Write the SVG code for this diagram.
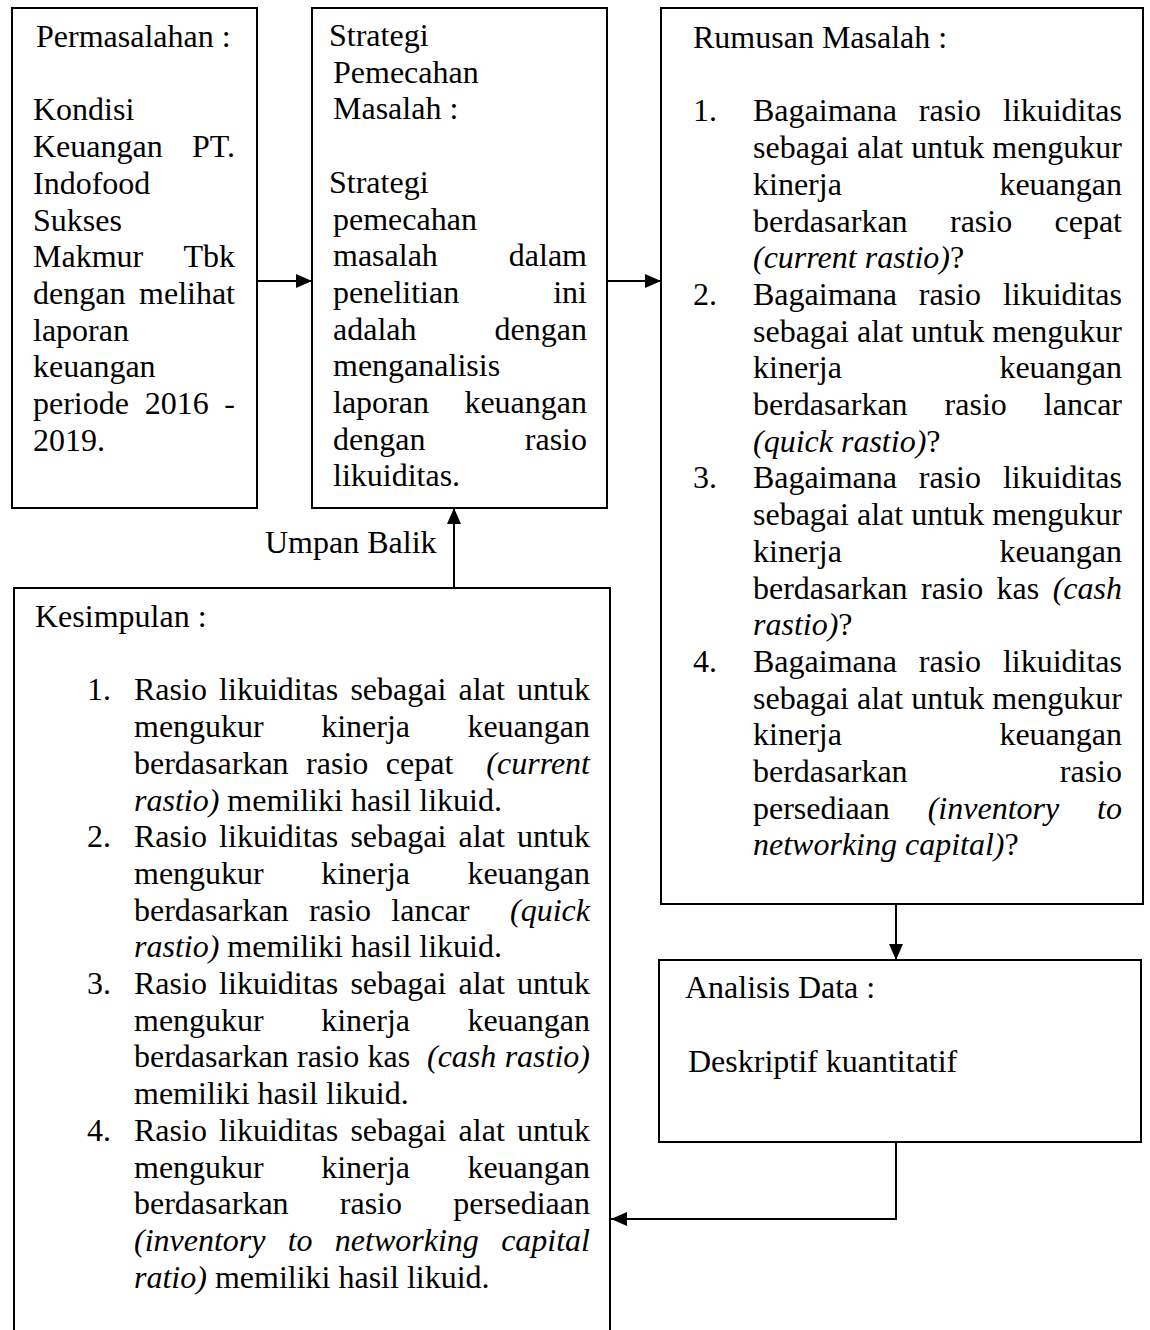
<svg xmlns="http://www.w3.org/2000/svg" width="1150" height="1330" viewBox="0 0 1150 1330">
<style>
text{font-family:"Liberation Serif","Times New Roman",serif;font-size:32px;fill:#000}
.e{text-anchor:end}
.i{font-style:italic}
.box{fill:#fff;stroke:#000;stroke-width:2}
.ln{fill:none;stroke:#000;stroke-width:2}
</style>
<defs>
<marker id="ah" markerUnits="userSpaceOnUse" markerWidth="16" markerHeight="14" refX="16" refY="7" orient="auto">
<path d="M0,0 L16,7 L0,14 z" fill="#000"/>
</marker>
</defs>
<rect width="1150" height="1330" fill="#fff"/>

<g id="connectors">
<line class="ln" x1="257" y1="281" x2="312" y2="281" marker-end="url(#ah)"/>
<line class="ln" x1="607" y1="281" x2="661" y2="281" marker-end="url(#ah)"/>
<line class="ln" x1="454" y1="588" x2="454" y2="508" marker-end="url(#ah)"/>
<line class="ln" x1="896" y1="904" x2="896" y2="960" marker-end="url(#ah)"/>
<polyline class="ln" points="896,1142 896,1219 611,1219" marker-end="url(#ah)"/>
<text x="265" y="553">Umpan Balik</text>
</g>

<g id="n-permasalahan">
<rect class="box" x="12" y="8" width="245" height="500"/>
<text x="36" y="47">Permasalahan :</text>
<text x="33" y="120.4">Kondisi</text>
<text x="33" y="157.1">Keuangan</text><text class="e" x="235" y="157.1">PT.</text>
<text x="33" y="193.8">Indofood</text>
<text x="33" y="230.5">Sukses</text>
<text x="33" y="267.2">Makmur</text><text class="e" x="235" y="267.2">Tbk</text>
<text x="33" y="303.9">dengan</text><text class="e" x="235" y="303.9">melihat</text>
<text x="33" y="340.6">laporan</text>
<text x="33" y="377.3">keuangan</text>
<text x="33" y="414">periode</text><text x="144.7" y="414">2016</text><text class="e" x="235" y="414">-</text>
<text x="33" y="450.7">2019.</text>
</g>

<g id="n-strategi">
<rect class="box" x="312" y="8" width="295" height="500"/>
<text x="329" y="46">Strategi</text>
<text x="333" y="82.7">Pemecahan</text>
<text x="333" y="119.4">Masalah :</text>
<text x="329" y="192.8">Strategi</text>
<text x="333" y="229.5">pemecahan</text>
<text x="333" y="266.2">masalah</text><text class="e" x="587" y="266.2">dalam</text>
<text x="333" y="302.9">penelitian</text><text class="e" x="587" y="302.9">ini</text>
<text x="333" y="339.6">adalah</text><text class="e" x="587" y="339.6">dengan</text>
<text x="333" y="376.3">menganalisis</text>
<text x="333" y="413">laporan</text><text class="e" x="587" y="413">keuangan</text>
<text x="333" y="449.7">dengan</text><text class="e" x="587" y="449.7">rasio</text>
<text x="333" y="486.4">likuiditas.</text>
</g>

<g id="n-rumusan">
<rect class="box" x="661" y="8" width="482" height="896"/>
<text x="693" y="48">Rumusan Masalah :</text>
<text x="693" y="121.4">1.</text>
<text x="753" y="121.4">Bagaimana</text><text x="918.8" y="121.4">rasio</text><text class="e" x="1122" y="121.4">likuiditas</text>
<text x="753" y="158.1">sebagai</text><text x="857" y="158.1">alat</text><text x="911.3" y="158.1">untuk</text><text class="e" x="1122" y="158.1">mengukur</text>
<text x="753" y="194.8">kinerja</text><text class="e" x="1122" y="194.8">keuangan</text>
<text x="753" y="231.5">berdasarkan</text><text x="950" y="231.5">rasio</text><text class="e" x="1122" y="231.5">cepat</text>
<text x="753" y="268.2"><tspan class="i">(current rastio)</tspan>?</text>
<text x="693" y="304.9">2.</text>
<text x="753" y="304.9">Bagaimana</text><text x="918.8" y="304.9">rasio</text><text class="e" x="1122" y="304.9">likuiditas</text>
<text x="753" y="341.6">sebagai</text><text x="857" y="341.6">alat</text><text x="911.3" y="341.6">untuk</text><text class="e" x="1122" y="341.6">mengukur</text>
<text x="753" y="378.3">kinerja</text><text class="e" x="1122" y="378.3">keuangan</text>
<text x="753" y="415">berdasarkan</text><text x="944.6" y="415">rasio</text><text class="e" x="1122" y="415">lancar</text>
<text x="753" y="451.7"><tspan class="i">(quick rastio)</tspan>?</text>
<text x="693" y="488.4">3.</text>
<text x="753" y="488.4">Bagaimana</text><text x="918.8" y="488.4">rasio</text><text class="e" x="1122" y="488.4">likuiditas</text>
<text x="753" y="525.1">sebagai</text><text x="857" y="525.1">alat</text><text x="911.3" y="525.1">untuk</text><text class="e" x="1122" y="525.1">mengukur</text>
<text x="753" y="561.8">kinerja</text><text class="e" x="1122" y="561.8">keuangan</text>
<text x="753" y="598.5">berdasarkan</text><text x="921" y="598.5">rasio</text><text x="996.6" y="598.5">kas</text><text class="e i" x="1122" y="598.5">(cash</text>
<text x="753" y="635.2"><tspan class="i">rastio)</tspan>?</text>
<text x="693" y="671.9">4.</text>
<text x="753" y="671.9">Bagaimana</text><text x="918.8" y="671.9">rasio</text><text class="e" x="1122" y="671.9">likuiditas</text>
<text x="753" y="708.6">sebagai</text><text x="857" y="708.6">alat</text><text x="911.3" y="708.6">untuk</text><text class="e" x="1122" y="708.6">mengukur</text>
<text x="753" y="745.3">kinerja</text><text class="e" x="1122" y="745.3">keuangan</text>
<text x="753" y="782">berdasarkan</text><text class="e" x="1122" y="782">rasio</text>
<text x="753" y="818.7">persediaan</text><text class="i" x="927.7" y="818.7">(inventory</text><text class="e i" x="1122" y="818.7">to</text>
<text x="753" y="855.4"><tspan class="i">networking capital)</tspan>?</text>
</g>

<g id="n-analisis">
<rect class="box" x="659" y="960" width="482" height="182"/>
<text x="685" y="998">Analisis Data :</text>
<text x="688" y="1072">Deskriptif kuantitatif</text>
</g>

<g id="n-kesimpulan">
<path class="ln" d="M14,1345 V588 H610 V1345"/>
<text x="35" y="627">Kesimpulan :</text>
<text x="87" y="700.4">1.</text>
<text x="134" y="700.4">Rasio</text><text x="219.1" y="700.4">likuiditas</text><text x="350.4" y="700.4">sebagai</text><text x="458.6" y="700.4">alat</text><text class="e" x="590" y="700.4">untuk</text>
<text x="134" y="737.1">mengukur</text><text x="321.2" y="737.1">kinerja</text><text class="e" x="590" y="737.1">keuangan</text>
<text x="134" y="773.8">berdasarkan</text><text x="306.1" y="773.8">rasio</text><text x="385.8" y="773.8">cepat</text><text class="e i" x="590" y="773.8">(current</text>
<text x="134" y="810.5"><tspan class="i">rastio)</tspan> memiliki hasil likuid.</text>
<text x="87" y="847.2">2.</text>
<text x="134" y="847.2">Rasio</text><text x="219.1" y="847.2">likuiditas</text><text x="350.4" y="847.2">sebagai</text><text x="458.6" y="847.2">alat</text><text class="e" x="590" y="847.2">untuk</text>
<text x="134" y="883.9">mengukur</text><text x="321.2" y="883.9">kinerja</text><text class="e" x="590" y="883.9">keuangan</text>
<text x="134" y="920.6">berdasarkan</text><text x="308.9" y="920.6">rasio</text><text x="391.3" y="920.6">lancar</text><text class="e i" x="590" y="920.6">(quick</text>
<text x="134" y="957.3"><tspan class="i">rastio)</tspan> memiliki hasil likuid.</text>
<text x="87" y="994">3.</text>
<text x="134" y="994">Rasio</text><text x="219.1" y="994">likuiditas</text><text x="350.4" y="994">sebagai</text><text x="458.6" y="994">alat</text><text class="e" x="590" y="994">untuk</text>
<text x="134" y="1030.7">mengukur</text><text x="321.2" y="1030.7">kinerja</text><text class="e" x="590" y="1030.7">keuangan</text>
<text x="134" y="1067.4">berdasarkan</text><text x="297" y="1067.4">rasio</text><text x="367.6" y="1067.4">kas</text><text class="i" x="427" y="1067.4">(cash</text><text class="e i" x="590" y="1067.4">rastio)</text>
<text x="134" y="1104.1">memiliki hasil likuid.</text>
<text x="87" y="1140.8">4.</text>
<text x="134" y="1140.8">Rasio</text><text x="219.1" y="1140.8">likuiditas</text><text x="350.4" y="1140.8">sebagai</text><text x="458.6" y="1140.8">alat</text><text class="e" x="590" y="1140.8">untuk</text>
<text x="134" y="1177.5">mengukur</text><text x="321.2" y="1177.5">kinerja</text><text class="e" x="590" y="1177.5">keuangan</text>
<text x="134" y="1214.2">berdasarkan</text><text x="339.8" y="1214.2">rasio</text><text class="e" x="590" y="1214.2">persediaan</text>
<text class="i" x="134" y="1250.9">(inventory</text><text class="i" x="287.7" y="1250.9">to</text><text class="i" x="334.8" y="1250.9">networking</text><text class="e i" x="590" y="1250.9">capital</text>
<text x="134" y="1287.6"><tspan class="i">ratio)</tspan> memiliki hasil likuid.</text>
</g>
</svg>
